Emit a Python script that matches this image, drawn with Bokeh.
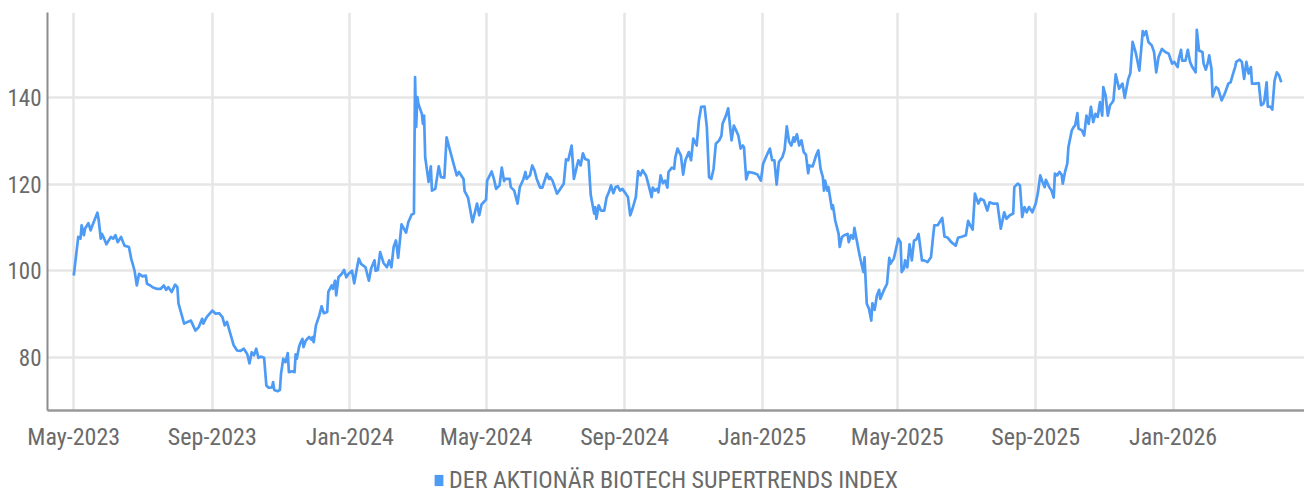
import pandas as pd
from bokeh.plotting import figure
from bokeh.layouts import column
from bokeh.models import (Range1d, FixedTicker, MonthsTicker, DatetimeTickFormatter,
                          Legend, LegendItem, ColumnDataSource)
from bokeh.embed import file_html
from bokeh.resources import INLINE

START = "2023-05-01"
SERIES_NAME = "DER AKTIONÄR BIOTECH SUPERTRENDS INDEX"

# days after 2023-05-01
days = [0, 4, 6, 7, 9, 10, 13, 15, 16, 21, 22, 24, 25, 27, 29, 31, 33, 35, 37, 39, 42, 45, 49, 51, 54, 56, 58, 61, 64, 65,
        68, 70, 74, 77, 80, 82, 84, 87, 90, 92, 93, 98, 101, 104, 108, 111, 114, 115, 118, 123, 126, 129, 132, 134, 136,
        139, 142, 145, 148, 151, 154, 156, 158, 160, 162, 164, 166, 169, 171, 173, 176, 177, 178, 181, 183, 184, 186, 188,
        190, 191, 194, 196, 197, 198, 200, 201, 203, 204, 206, 209, 211, 212, 213, 215, 218, 220, 222, 225, 226, 229, 230,
        232, 233, 235, 238, 240, 242, 244, 247, 249, 251, 253, 255, 259, 262, 264, 267, 268, 270, 272, 275, 278, 280, 282,
        284, 286, 288, 291, 295, 297, 300, 302, 303, 304, 305, 306, 309, 310, 311, 312, 315, 317, 318, 321, 324, 326, 329,
        331, 334, 338, 340, 342, 344, 346, 347, 350, 354, 358, 360, 362, 366, 367, 371, 373, 375, 378, 380, 382, 383, 387,
        388, 391, 394, 396, 399, 401, 402, 405, 407, 409, 411, 414, 416, 420, 422, 423, 425, 429, 432, 435, 437, 439, 442,
        444, 447, 448, 450, 452, 454, 457, 459, 462, 463, 464, 466, 468, 471, 473, 475, 477, 479, 481, 483, 485, 487, 490,
        492, 494, 496, 499, 501, 503, 505, 508, 510, 513, 514, 516, 518, 519, 521, 523, 525, 527, 528, 531, 533, 534, 536,
        539, 541, 543, 546, 548, 550, 553, 555, 557, 560, 562, 564, 566, 568, 570, 573, 575, 576, 579, 581, 583, 584, 586,
        588, 590, 592, 594, 595, 597, 599, 603, 607, 610, 612, 616, 618, 620, 622, 624, 626, 629, 631, 633, 635, 637, 639,
        640, 642, 644, 646, 648, 650, 652, 653, 656, 659, 661, 663, 665, 666, 667, 669, 670, 673, 674, 676, 679, 680, 682,
        684, 687, 688, 690, 692, 693, 696, 698, 701, 702, 704, 706, 708, 709, 711, 713, 715, 716, 719, 722, 724, 725, 728,
        732, 734, 735, 737, 738, 740, 742, 744, 746, 748, 750, 753, 755, 758, 761, 763, 764, 767, 771, 773, 776, 779, 783,
        785, 789, 792, 794, 795, 798, 800, 803, 805, 808, 811, 813, 816, 820, 821, 823, 826, 828, 831, 834, 835, 838, 840,
        842, 844, 846, 848, 851, 854, 856, 858, 860, 862, 863, 866, 868, 870, 871, 873, 875, 877, 878, 880, 882, 883, 886,
        888, 889, 891, 892, 895, 897, 899, 901, 903, 905, 907, 909, 911, 913, 914, 916, 918, 920, 922, 923, 925, 928, 931,
        933, 936, 938, 940, 943, 946, 949, 950, 952, 954, 957, 959, 961, 963, 966, 969, 972, 975, 977, 980, 981, 983, 984,
        987, 989, 991, 993, 996, 997, 999, 1002, 1003, 1005, 1007, 1008, 1010, 1011, 1014, 1016, 1019, 1022, 1025, 1027,
        1029, 1031, 1032, 1035, 1037, 1039, 1041, 1043, 1045, 1046, 1049, 1052, 1054, 1056, 1057, 1059, 1060, 1062, 1064,
        1066, 1068, 1070, 1072]

index_values = [98.9, 107.8, 107.4, 110.5, 108.2, 109.7, 111, 109.3, 110.1, 113.4, 112, 107.4, 108.5, 107.4, 106.1, 107,
                107.8, 107.4, 108.2, 106.6, 107.8, 105.8, 105.5, 102.8, 100, 96.6, 99.3, 98.7, 98.9, 97,
                96.6, 96.2, 95.8, 95.8, 96.6, 95.6, 96.2, 95.1, 96.8, 96.2, 92.4, 87.8, 88.2, 88.5, 86.2, 87, 88.9, 87.8,
                89.3, 90.8, 90.1, 90.2, 89.3, 87.4, 88.2,
                85.5, 82.8, 81.6, 81.5, 82, 80.8, 78.6, 81.2, 80.5, 82, 79.9, 80.2, 79.9, 73.5, 73, 73.1, 74.3, 72.5, 72.2,
                72.5, 76.2, 79.7, 78.9,
                81, 76.6, 76.8, 76.6, 80.7, 79.7, 82.4, 83.2, 84.3, 82.4, 83.9, 84.7, 84.1, 84.7, 83.5, 87.4, 89.7, 91.8,
                90.2, 90.5, 95.1, 96.6, 95.8,
                97.7, 94.3, 98.5, 99.3, 100.2, 98.5, 99.3, 100, 97.1, 100, 102.8, 101.6, 100.8, 97.7, 100.5, 102.4, 100,
                100.2, 104.3, 101.8, 100.8, 102.4, 100.8,
                105.5, 107, 103, 110.7, 108.8, 111.2, 113, 113.2, 144.7, 133.2, 140.1, 138.5, 136.2, 133.9, 135.8, 126.2,
                120.5, 124.1, 118.5, 118.9, 124.1, 121.6, 121.5,
                130.8, 127.8, 123.9, 122, 122.8, 122, 121.2, 118.4, 116.9, 111.2, 115.5, 112.8, 115.3, 116.4, 120.8, 122.9,
                121.2, 118.9, 119.7, 123.8, 120.7, 121.2, 121.2,
                119.3, 118.5, 115.5, 119.3, 121, 122.8, 121.2, 122, 124.3, 123.2, 121.2, 119.2, 119.2, 122.4, 121.2, 121.6,
                120.8, 117.8, 118.9, 120.1, 125.7, 125.5, 128.9,
                121.2, 124.5, 125.5, 124.3, 127.1, 125.8, 125.5, 117.4, 113.2, 114.7, 112, 115.1, 113.9, 113.9, 116.9,
                118.1, 119.7, 117.9, 119.3, 119.5, 118.5, 118.9, 117.8,
                117, 112.8, 114.3, 117, 123, 122, 123.2, 122, 120.1, 117, 119.2, 118.5, 118.9, 118.1, 122, 120.2, 120.8,
                119.2, 122.8, 123.8, 123.5, 126.1, 128.2,
                126.6, 122.2, 125.5, 127.4, 125.5, 130.5, 128.9, 134.7, 137.8, 137.9, 133.2, 121.6, 121.2, 123.5, 129.3,
                130.1, 131.2, 133.9, 135.8, 137.5, 132.4, 130.1, 133.5,
                132.4, 131.2, 128.2, 128.9, 128.5, 121.1, 122.8, 122.6, 122.2, 120.8, 124.7, 127.1, 128.2, 125.5, 125.5,
                119.9, 125.1, 126.2, 127.8, 133.3, 129.8, 128.9, 130.8,
                129.8, 131.5, 128.9, 130.1, 127.4, 126.8, 122.5, 124.3, 124.1, 126.6, 127.8, 123.5, 121.6, 118.5, 120.8,
                118.5, 119.3, 114.3, 115.1, 111.6, 108.5, 105.5, 107.8,
                108.2, 108.5, 106.6, 108.2, 107.4, 109.9, 105.8, 103.1, 99.7, 103.1, 92.4, 91.2, 88.5, 92.5, 91, 94.3,
                95.6, 93.5, 95.4, 97, 103, 101.6, 102.8,
                107.4, 106.6, 99.7, 100.5, 102.4, 100.8, 106.1, 102.4, 107, 107.2, 108.5, 102.4, 102.4, 102, 103.1, 108.2,
                110.5, 110.5, 112.2, 107.9, 107.6, 106.6, 105.8,
                107.6, 107.9, 108.2, 111.5, 110.9, 109.5, 117.8, 115.5, 116.6, 116.2, 113.9, 115.8, 115.5, 115.5, 113.5,
                109.7, 113.5, 112, 112.8, 113.2, 119.3, 120.1, 119.7,
                112.4, 114.7, 113.5, 114.7, 113.5, 115.5, 118.1, 122, 120.5, 119.3, 121, 119.3, 118.5, 116.9, 122.4, 122,
                122.8, 122.2, 120.1, 122.8, 124.7, 128.5, 132.4,
                133.3, 133.5, 136.4, 132.8, 132.4, 131.2, 135.8, 133.9, 137.8, 134.3, 136.2, 135.5, 138.9, 135.8, 142.4,
                140.5, 135.8, 138.2, 138.9, 139.3, 145.3, 142, 143.2,
                139.9, 144.1, 145.6, 152.8, 150.1, 146.2, 155.3, 154.3, 155.3, 152.8, 152, 150.5, 145.8, 149.3, 151.2,
                150.5, 150.1, 147.8, 148.2, 147, 148.9, 151, 148.5,
                148.5, 151, 148.2, 147, 145.8, 155.6, 150.8, 150.5, 147.8, 146.4, 148.2, 149.7, 146.6, 140.2, 142.4, 142,
                139.3, 141, 143.2, 143.5,
                145.3, 147, 148.2, 148.7, 148.2, 144.3, 148.2, 145.5, 147, 143.2, 143.2, 143.3, 138.2, 138.5, 139.3, 143.5,
                137.9, 137.9, 137.2,
                143.9, 145.8, 145.1, 143.5]

y_ticks = [80, 100, 120, 140]
tick_months = [0, 4, 8]  # Jan, May, Sep

assert len(days) == len(index_values), (len(days), len(index_values))

start = pd.Timestamp(START)
dates = start + pd.to_timedelta(days, unit="D")
src = ColumnDataSource(data=dict(date=dates, value=index_values))

FONT = "'Liberation Sans Narrow', 'Roboto Condensed', 'DejaVu Sans Condensed', Roboto"
LINE_COLOR = "#4e9bf6"
TXT = "#6a6a6a"

x_start = start + pd.Timedelta(days=-23.3)
x_end = start + pd.Timedelta(days=1092.6)

p = figure(width=1304, height=455, x_axis_type="datetime", output_backend="svg",
           toolbar_location=None, x_range=Range1d(x_start, x_end), y_range=Range1d(67.75, 159.6),
           min_border_left=47, min_border_right=0, min_border_top=12, min_border_bottom=45)
p.outline_line_color = None
p.background_fill_color = "white"
p.border_fill_color = "white"

r = p.line("date", "value", source=src, line_color=LINE_COLOR, line_width=2.7, line_join="round")

# axes
p.xaxis.ticker = MonthsTicker(months=tick_months)
p.xaxis.formatter = DatetimeTickFormatter(months="%b-%Y", days="%b-%Y", years="%b-%Y")
p.yaxis.ticker = FixedTicker(ticks=y_ticks)
for ax in (p.xaxis[0], p.yaxis[0]):
    ax.major_tick_line_color = None
    ax.minor_tick_line_color = None
    ax.major_label_text_font = FONT
    ax.major_label_text_color = TXT
p.xaxis.major_label_text_font_size = "24px"
p.yaxis.major_label_text_font_size = "23px"
p.yaxis.major_tick_out = 0
p.xaxis.axis_line_color = "#999999"
p.xaxis.axis_line_width = 2.5
p.yaxis.axis_line_color = "#8c8c8c"
p.yaxis.axis_line_width = 2
p.xaxis.major_label_standoff = 6
p.yaxis.major_label_standoff = 6

p.xgrid.ticker = MonthsTicker(months=tick_months)
p.xgrid.grid_line_color = "#e6e6e6"
p.xgrid.grid_line_width = 2.5
p.ygrid.grid_line_color = "#e6e6e6"
p.ygrid.grid_line_width = 2.5

# legend strip below the chart
p2 = figure(width=1304, height=38, output_backend="svg", toolbar_location=None,
            x_range=Range1d(0, 1), y_range=Range1d(0, 1), x_axis_location=None, y_axis_location=None,
            min_border=0)
p2.grid.visible = False
p2.outline_line_color = None
nan = float("nan")
legend_src = ColumnDataSource(data=dict(l=[nan], r=[nan], t=[nan], b=[nan]))
q = p2.quad(left="l", right="r", top="t", bottom="b", source=legend_src, fill_color=LINE_COLOR,
            line_color=None)
legend = Legend(items=[LegendItem(label=SERIES_NAME, renderers=[q], index=0)], location=(386, -1),
                orientation="horizontal", glyph_width=11, glyph_height=14, padding=0, margin=0,
                spacing=0, label_standoff=5, border_line_color=None, background_fill_alpha=0,
                label_text_font=FONT, label_text_font_size="24px", label_text_color=TXT)
p2.add_layout(legend)

layout = column(p, p2, spacing=0)
open("out.html", "w").write(file_html(layout, INLINE))
